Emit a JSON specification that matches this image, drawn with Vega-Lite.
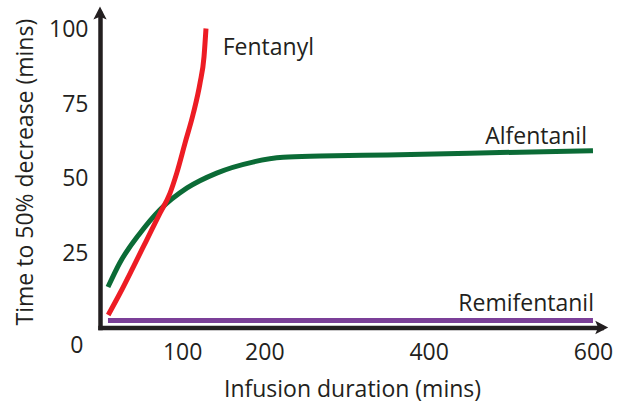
{
  "$schema": "https://vega.github.io/schema/vega-lite/v6.json",
  "width": 501.2,
  "height": 313.9,
  "autosize": {"type": "none"},
  "padding": {"left": 100, "top": 13.6, "right": 23.8, "bottom": 81.5},
  "background": "white",
  "config": {
    "view": {"stroke": null},
    "font": "Open Sans",
    "axis": {"labelFont": "Open Sans", "titleFont": "Open Sans", "labelColor": "#231f20", "titleColor": "#231f20", "labelFontSize": 23, "titleFontSize": 23, "titleFontWeight": "normal", "grid": false, "ticks": false, "tickSize": 0, "domainColor": "#231f20", "domainWidth": 4.5, "domainCap": "square"}
  },
  "datasets": {
    "fentanyl": [
      {"x": 10, "y": 4.2}, {"x": 24.3, "y": 11.5}, {"x": 40.6, "y": 20.4}, {"x": 56.8, "y": 29.4},
      {"x": 73, "y": 38.4}, {"x": 85, "y": 45}, {"x": 93.3, "y": 51.8}, {"x": 103.4, "y": 61.9},
      {"x": 113.6, "y": 72}, {"x": 121.7, "y": 82.1}, {"x": 126.6, "y": 91}, {"x": 129, "y": 100.5}
    ],
    "alfentanil": [
      {"x": 9.7, "y": 13.6}, {"x": 24, "y": 21.7}, {"x": 48.7, "y": 31.7}, {"x": 73, "y": 39.6},
      {"x": 106, "y": 46.9}, {"x": 142, "y": 51.9}, {"x": 186, "y": 55.6}, {"x": 223, "y": 57.2},
      {"x": 268, "y": 57.6}, {"x": 350, "y": 58}, {"x": 450, "y": 58.6}, {"x": 600, "y": 59.4}
    ],
    "remifentanil": [
      {"x": 9.7, "y": 2.35}, {"x": 600, "y": 2.35}
    ],
    "arrowX": [{"x": 610, "y": 0}],
    "arrowY": [{"x": 0, "y": 105.5}],
    "labelsLeft": [{"x": 149.3, "y": 91.6, "text": "Fentanyl"}],
    "labelsRight": [
      {"x": 592.7, "y": 61.7, "text": "Alfentanil"},
      {"x": 601.2, "y": 5.6, "text": "Remifentanil"}
    ]
  },
  "encoding": {
    "x": {"field": "x", "type": "quantitative", "scale": {"domain": [0, 610], "nice": false, "zero": false},
      "axis": {"values": [100, 200, 400, 600], "labelBaseline": "alphabetic", "labelPadding": 31.5,
        "title": "Infusion duration (mins)", "titleBaseline": "alphabetic", "titleX": 252, "titleY": 69.2, "titleAnchor": "middle", "titleAlign": "center"}},
    "y": {"field": "y", "type": "quantitative", "scale": {"domain": [0, 105.5], "nice": false, "zero": false},
      "axis": {"values": [0, 25, 50, 75, 100], "labelPadding": {"condition": {"test": "datum.value == 0", "value": 17}, "value": 12},
        "labelOffset": {"condition": {"test": "datum.value == 0", "value": 17.5}, "value": 0},
        "title": "Time to 50% decrease (mins)", "titleBaseline": "alphabetic", "titleAngle": 270, "titleX": -68, "titleY": 158, "titleAlign": "center"}}
  },
  "layer": [
    {"data": {"name": "remifentanil"}, "mark": {"type": "line", "color": "#7b3f98", "strokeWidth": 5, "strokeCap": "butt"}},
    {"data": {"name": "alfentanil"}, "mark": {"type": "line", "color": "#0b6b36", "strokeWidth": 5, "strokeCap": "butt", "interpolate": "monotone"}},
    {"data": {"name": "fentanyl"}, "mark": {"type": "line", "color": "#ed1c24", "strokeWidth": 5, "strokeCap": "butt", "interpolate": "monotone"}},
    {"data": {"name": "arrowX"}, "mark": {"type": "point", "filled": true, "color": "#231f20", "opacity": 1, "size": 196, "strokeWidth": 0, "shape": "M1,0 L-0.85,-0.95 L-0.45,0 L-0.85,0.95 Z"}},
    {"data": {"name": "arrowY"}, "mark": {"type": "point", "filled": true, "color": "#231f20", "opacity": 1, "size": 196, "strokeWidth": 0, "shape": "M0,-1 L-0.95,0.85 L0,0.45 L0.95,0.85 Z"}},
    {"data": {"name": "labelsLeft"}, "mark": {"type": "text", "align": "left", "baseline": "alphabetic", "font": "Open Sans", "fontSize": 23, "color": "#231f20"}, "encoding": {"text": {"field": "text"}}},
    {"data": {"name": "labelsRight"}, "mark": {"type": "text", "align": "right", "baseline": "alphabetic", "font": "Open Sans", "fontSize": 23, "color": "#231f20"}, "encoding": {"text": {"field": "text"}}}
  ]
}
